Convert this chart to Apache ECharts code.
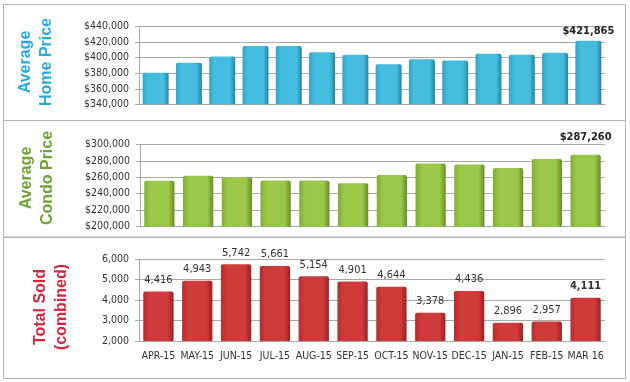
<!DOCTYPE html>
<html><head><meta charset="utf-8">
<script src="https://cdn.jsdelivr.net/npm/echarts@6/dist/echarts.min.js"></script>
<style>html,body{margin:0;padding:0;background:#fff}#c{width:630px;height:382px}</style>
</head><body><div id="c"></div>
<script>
// ---- data ----
const homeCategories = ['1','2','3','4','5','6','7','8','9','10','11','12','13','14'];
const homePrices = [380500, 393500, 401500, 415000, 415000, 407000, 404000, 391500, 398000, 396500, 405000, 404000, 406500, 421865];
const months = ['APR-15','MAY-15','JUN-15','JUL-15','AUG-15','SEP-15','OCT-15','NOV-15','DEC-15','JAN-15','FEB-15','MAR 16'];
const condoPrices = [255800, 261800, 260000, 256200, 256200, 252800, 262700, 276800, 275600, 271200, 282300, 287260];
const totalSold = [4416, 4943, 5742, 5661, 5154, 4901, 4644, 3378, 4436, 2896, 2957, 4111];
const homeTicks = {min: 340000, max: 440000, interval: 20000};
const condoTicks = {min: 200000, max: 300000, interval: 20000};
const soldTicks = {min: 2000, max: 6000, interval: 1000};

const FONT = '"Liberation Sans Narrow", "DejaVu Sans Condensed", "Liberation Sans"';
const fmt = v => v.toString().replace(/\B(?=(\d{3})+(?!\d))/g, ',');
const grad = (edge, mid, dark) => new echarts.graphic.LinearGradient(0,0,1,0,[
  {offset:0,color:edge},{offset:0.2,color:mid},{offset:0.8,color:mid},{offset:1,color:dark}]);

const chart = echarts.init(document.getElementById('c'), null, {renderer:'canvas'});
const gridLine = {show:true, lineStyle:{color:'#a8a8a8', width:1}};
const yBase = (idx, t, money) => ({
  type:'value', gridIndex:idx, min:t.min, max:t.max, interval:t.interval,
  axisLine:{show:true, lineStyle:{color:'#a8a8a8'}},
  axisTick:{show:true, length:4, lineStyle:{color:'#a8a8a8'}},
  splitLine:gridLine,
  axisLabel:{fontFamily:FONT, fontSize:10.5, color:'#333', margin:10,
    formatter: v => (money ? '$' : '') + fmt(v)}
});
const xBase = (idx, cats, showLabel) => ({
  type:'category', gridIndex:idx, data:cats,
  axisLine:{show:true, lineStyle:{color:'#a8a8a8'}},
  axisTick:{show:false},
  axisLabel:{show:showLabel, interval:0, fontFamily:FONT, fontSize:10.5, color:'#333', margin:10}
});
const lastOnly = (arr, money, dist) => arr.map((v,i) => i === arr.length-1 ?
  {value:v, label:{show:true, position:'top', distance:dist, formatter:(money?'$':'')+fmt(v), fontWeight:'bold', fontFamily:FONT, fontSize:11, color:'#222'}} : v);

chart.setOption({
  animation:false,
  backgroundColor:'#fff',
  grid:[
    {left:139, right:25, top:26.7, height:77.6},
    {left:140, right:25, top:144.3, height:82.4},
    {left:139, right:25, top:259, height:82}
  ],
  xAxis:[xBase(0, homeCategories, false), xBase(1, months, false), xBase(2, months, true)],
  yAxis:[yBase(0, homeTicks, true), yBase(1, condoTicks, true), yBase(2, soldTicks, false)],
  series:[
    {type:'bar', xAxisIndex:0, yAxisIndex:0, barCategoryGap:'22%',
      data:lastOnly(homePrices, true, 4),
      itemStyle:{color:grad('#33a3c6','#44bde0','#2384a3'), borderRadius:[2,2,0,0]}},
    {type:'bar', xAxisIndex:1, yAxisIndex:1, barCategoryGap:'22%',
      data:lastOnly(condoPrices, true, 12),
      itemStyle:{color:grad('#80ad30','#9cc84a','#668e24'), borderRadius:[2,2,0,0]}},
    {type:'bar', xAxisIndex:2, yAxisIndex:2, barCategoryGap:'22%',
      data:totalSold.map((v,i) => ({value:v, label:{show:true, position:'top', distance:6,
        formatter:fmt(v), fontFamily:FONT, fontSize:11, color:'#333',
        fontWeight: i === totalSold.length-1 ? 'bold' : 'normal'}})),
      itemStyle:{color:grad('#b82d2d','#cf3b3a','#9c2020'), borderRadius:[2,2,0,0]}}
  ],
  graphic:[
    {type:'rect', shape:{x:3.5, y:4.5, width:622, height:116}, style:{fill:'none', stroke:'#b4b4b4', lineWidth:1}, silent:true},
    {type:'rect', shape:{x:3.5, y:120.5, width:622, height:116.5}, style:{fill:'none', stroke:'#b4b4b4', lineWidth:1}, silent:true},
    {type:'rect', shape:{x:3.5, y:237.5, width:622, height:141}, style:{fill:'none', stroke:'#b4b4b4', lineWidth:1}, silent:true},
    {type:'text', x:36, y:62, rotation:Math.PI/2, style:{text:'Average\nHome Price', fill:'#29abe2', font:'bold 16px "Liberation Sans"', align:'center', verticalAlign:'middle', lineHeight:21}},
    {type:'text', x:37, y:178, rotation:Math.PI/2, style:{text:'Average\nCondo Price', fill:'#6fa534', font:'bold 16px "Liberation Sans"', align:'center', verticalAlign:'middle', lineHeight:21}},
    {type:'text', x:51, y:307, rotation:Math.PI/2, style:{text:'Total Sold\n(combined)', fill:'#d6283e', font:'bold 16px "Liberation Sans"', align:'center', verticalAlign:'middle', lineHeight:21}}
  ]
});
</script></body></html>
